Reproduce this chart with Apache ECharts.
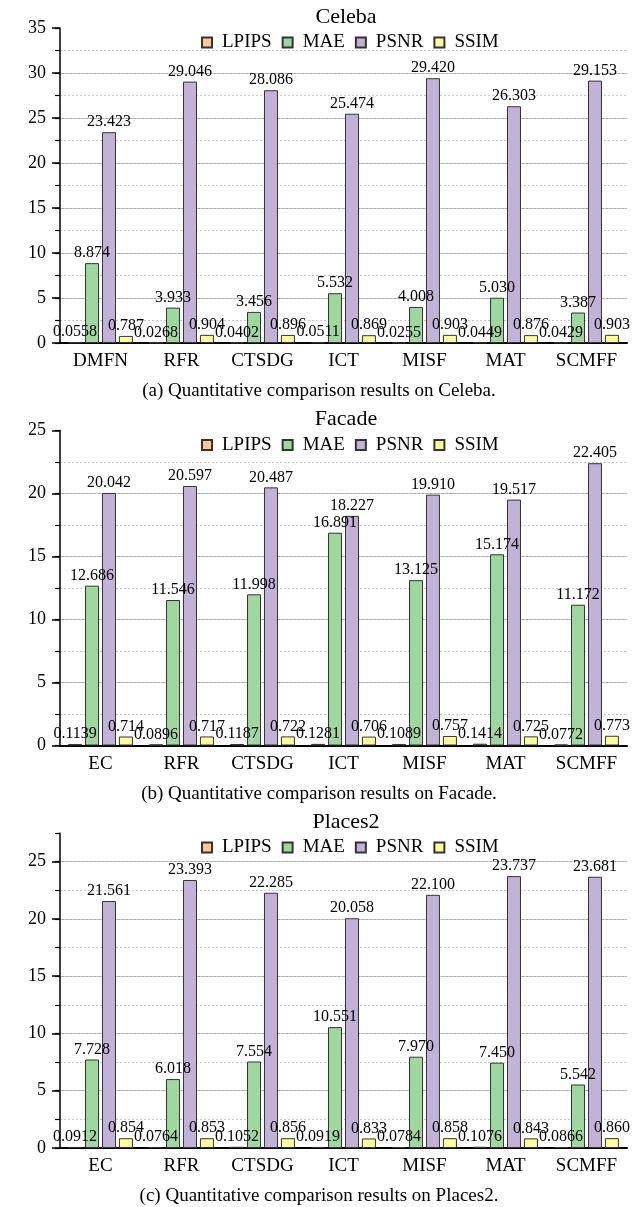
<!DOCTYPE html>
<html>
<head>
<meta charset="utf-8">
<script src="https://cdn.jsdelivr.net/npm/echarts@6/dist/echarts.min.js"></script>
<style>
html,body{margin:0;padding:0;background:#fff;}
#c{width:633px;height:1207px;}
</style>
</head>
<body>
<div id="c"></div>
<script>
const seriesNames = ['LPIPS', 'MAE', 'PSNR', 'SSIM'];

const celebaCats = ['DMFN', 'RFR', 'CTSDG', 'ICT', 'MISF', 'MAT', 'SCMFF'];
const celebaLPIPS = [0.0558, 0.0268, 0.0402, 0.0511, 0.0255, 0.0449, 0.0429];
const celebaMAE = [8.874, 3.933, 3.456, 5.532, 4.008, 5.030, 3.387];
const celebaPSNR = [23.423, 29.046, 28.086, 25.474, 29.420, 26.303, 29.153];
const celebaSSIM = [0.787, 0.904, 0.896, 0.869, 0.903, 0.876, 0.903];

const facadeCats = ['EC', 'RFR', 'CTSDG', 'ICT', 'MISF', 'MAT', 'SCMFF'];
const facadeLPIPS = [0.1139, 0.0896, 0.1187, 0.1281, 0.1089, 0.1414, 0.0772];
const facadeMAE = [12.686, 11.546, 11.998, 16.891, 13.125, 15.174, 11.172];
const facadePSNR = [20.042, 20.597, 20.487, 18.227, 19.910, 19.517, 22.405];
const facadeSSIM = [0.714, 0.717, 0.722, 0.706, 0.757, 0.725, 0.773];

const placesCats = ['EC', 'RFR', 'CTSDG', 'ICT', 'MISF', 'MAT', 'SCMFF'];
const placesLPIPS = [0.0912, 0.0764, 0.1052, 0.0919, 0.0784, 0.1076, 0.0866];
const placesMAE = [7.728, 6.018, 7.554, 10.551, 7.970, 7.450, 5.542];
const placesPSNR = [21.561, 23.393, 22.285, 20.058, 22.100, 23.737, 23.681];
const placesSSIM = [0.854, 0.853, 0.856, 0.833, 0.858, 0.843, 0.860];

const panelTitles = ['Celeba', 'Facade', 'Places2'];
const panelCaptions = [
  '(a) Quantitative comparison results on Celeba.',
  '(b) Quantitative comparison results on Facade.',
  '(c) Quantitative comparison results on Places2.'
];
const yMaxes = [35, 25, 27.5];

const panels = [
  {cats: celebaCats, data: [celebaLPIPS, celebaMAE, celebaPSNR, celebaSSIM]},
  {cats: facadeCats, data: [facadeLPIPS, facadeMAE, facadePSNR, facadeSSIM]},
  {cats: placesCats, data: [placesLPIPS, placesMAE, placesPSNR, placesSSIM]}
];

const FONT = 'Liberation Serif';
const colors = ['#FCC793', '#9ED89E', '#C2B2D8', '#FFFF99'];
const decimals = [4, 3, 3, 3];
const step = 402.5;

const option = {
  animation: false,
  backgroundColor: '#fff',
  textStyle: {fontFamily: FONT, color: '#000'},
  title: [], legend: [], grid: [], xAxis: [], yAxis: [], series: []
};

panels.forEach((p, i) => {
  const dy = i * step;
  option.title.push({
    text: panelTitles[i], left: 346, top: 6 + dy, textAlign: 'center', padding: 0,
    textStyle: {fontFamily: FONT, fontSize: 22, fontWeight: 'normal', color: '#000'}
  });
  option.title.push({
    text: panelCaptions[i], left: 319, top: 382 + dy, textAlign: 'center', padding: 0,
    textStyle: {fontFamily: FONT, fontSize: 19, fontWeight: 'normal', color: '#000'}
  });
  option.legend.push({
    data: seriesNames, left: 201, top: 33 + dy, padding: 0,
    itemWidth: 10, itemHeight: 10, itemGap: 10, icon: 'rect',
    textStyle: {fontFamily: FONT, fontSize: 19, color: '#000', padding: [0, 0, 0, 5]}
  });
  option.grid.push({left: 60, right: 6, top: 28 + dy, height: 315});
  option.xAxis.push({
    type: 'category', gridIndex: i, data: p.cats,
    axisLine: {lineStyle: {color: '#000', width: 2}},
    axisTick: {show: false},
    axisLabel: {fontFamily: FONT, fontSize: 19, color: '#000', margin: 9}
  });
  // major axis
  option.yAxis.push({
    type: 'value', gridIndex: i, position: 'left', min: 0, max: yMaxes[i], interval: 5,
    axisLine: {show: true, lineStyle: {color: '#000', width: 1.5}},
    axisTick: {show: true, length: 8, lineStyle: {color: '#000', width: 1.5}},
    axisLabel: {fontFamily: FONT, fontSize: 18, color: '#000', margin: 14, showMaxLabel: yMaxes[i] % 5 === 0},
    splitLine: {show: true, showMinLine: false, showMaxLine: false, lineStyle: {color: '#a8a8a8', width: 1}}
  });
  // minor axis (dotted lines & short ticks)
  option.yAxis.push({
    type: 'value', gridIndex: i, position: 'left', min: 0, max: yMaxes[i], interval: 2.5,
    axisLine: {show: false},
    axisTick: {show: true, length: 5, lineStyle: {color: '#000', width: 1.2}},
    axisLabel: {show: false},
    splitLine: {show: true, showMinLine: false, showMaxLine: false, lineStyle: {color: '#c8c8c8', width: 1, type: [2, 2]}}
  });
  seriesNames.forEach((name, k) => {
    option.series.push({
      name: name, type: 'bar', xAxisIndex: i, yAxisIndex: i * 2,
      data: p.data[k], barWidth: 14, barGap: '21%',
      itemStyle: {color: colors[k], borderColor: '#333', borderWidth: 1},
      label: {
        show: true, position: 'top', distance: 2,
        fontFamily: FONT, fontSize: 16, color: '#000',
        formatter: (d) => Number(d.value).toFixed(decimals[k])
      },
      z: 3
    });
  });
});

const chart = echarts.init(document.getElementById('c'), null, {renderer: 'canvas'});
chart.setOption(option);
</script>
</body>
</html>
